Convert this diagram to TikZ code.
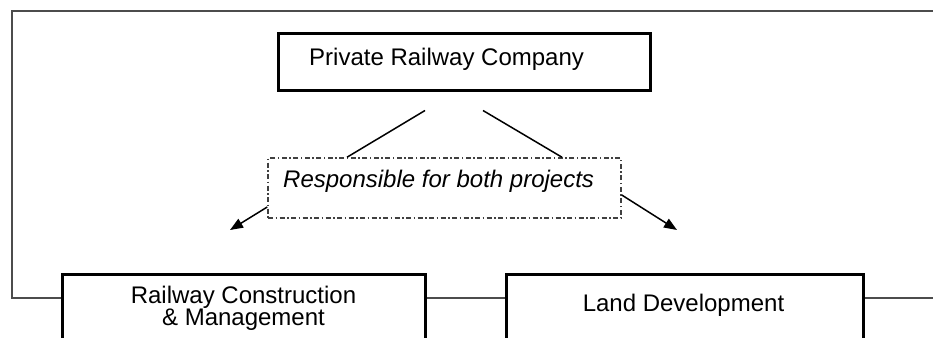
\documentclass[tikz,border=0pt]{standalone}
\usepackage{fontspec}
\setmainfont{Liberation Sans}
\usetikzlibrary{arrows.meta,calc}
\begin{document}
\begin{tikzpicture}[x=1pt,y=-1pt,
  font=\fontsize{24}{22}\selectfont,
  boxstyle/.style={draw=black,line width=3pt,inner sep=0pt,fill=white},
  dashbox/.style={draw=black!75,line width=1.5pt,inner sep=0pt,
    dash pattern=on 5pt off 2.5pt on 1.5pt off 2.5pt},
  outerline/.style={draw=black!70,line width=1.5pt},
  conn/.style={draw=black,line width=1.5pt},
  arr/.style={conn,-{Triangle[length=13pt,width=10pt]}},
  txt/.style={inner sep=0pt}]
\useasboundingbox (0,0) rectangle (933,337);
\clip (0,0) rectangle (933,337);
\fill[white] (0,0) rectangle (933,337);
% boxes
\node[boxstyle,minimum width=372pt,minimum height=56pt] (prc) at (464,62) {};
\node[dashbox,minimum width=353pt,minimum height=60pt] (resp) at (444.5,188) {};
\node[boxstyle,minimum width=363pt,minimum height=120pt,anchor=north west] (rcm) at (61,273) {};
\node[boxstyle,minimum width=357pt,minimum height=120pt,anchor=north west] (land) at (505,273) {};
% texts
\node[txt,anchor=base west] (prct) at (309,65) {Private Railway Company};
\node[txt,anchor=base west] (respt) at (283,187) {\itshape Responsible for both projects};
\node[txt,anchor=base] (rcmt1) at (243.5,303) {Railway Construction};
\node[txt,anchor=base] (rcmt2) at (243.5,325) {\& Management};
\node[txt,anchor=base] (landt) at (683.5,311) {Land Development};
% outer connector line
\coordinate (ocorner1) at (12,298);
\coordinate (ocorner2) at (12,11);
\coordinate (oend) at (933,11);
\coordinate (rend) at (933,298);
\draw[outerline] ($(rcm.north west)+(0,25)$) -- (ocorner1) -- (ocorner2) -- (oend);
\draw[outerline] ($(rcm.north east)+(0,25)$) -- ($(land.north west)+(0,25)$);
\draw[outerline] ($(land.north east)+(0,25)$) -- (rend);
% connectors
\draw[conn] ($(prc.south)+(-39,19)$) -- ($(resp.north)+(-97.5,0)$);
\draw[conn] ($(prc.south)+(19,19)$) -- ($(resp.north)+(117.5,0)$);
\coordinate (tipl) at (230,230);
\coordinate (tipr) at (677,230);
\draw[arr] ($(resp.west)+(0,19)$) -- (tipl);
\draw[arr] ($(resp.east)+(0,7)$) -- (tipr);
\end{tikzpicture}
\end{document}
